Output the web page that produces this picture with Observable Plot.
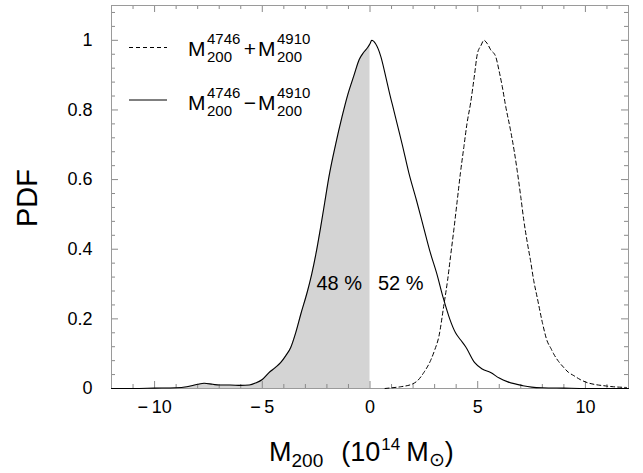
<!DOCTYPE html>
<html><head><meta charset="utf-8">
<script src="https://cdn.jsdelivr.net/npm/d3@7"></script>
<script src="https://cdn.jsdelivr.net/npm/@observablehq/plot@0.6"></script>
<style>body{margin:0;background:#fff} svg{display:block}</style>
</head><body><div id="chart"></div>
<script>
// M200(4746) - M200(4910): solid curve
const diffX = [-12, -11, -10, -9, -8.5, -8.0, -7.7, -7.3, -7.0, -6.5, -6.0, -5.6, -5.3, -5.0, -4.7, -4.4, -4.14, -3.9, -3.68, -3.45, -3.21, -2.9, -2.7, -2.5, -2.3, -2.1, -1.9, -1.6, -1.3, -1.05, -0.74, -0.5, -0.3, -0.1, 0, 0.08, 0.26, 0.5, 0.73, 0.9, 1.1, 1.3, 1.5, 1.8, 2.16, 2.5, 2.8, 3.1, 3.4, 3.7, 3.97, 4.2, 4.44, 4.85, 5.21, 5.6, 6.0, 6.4, 7.1, 7.5, 8, 9, 10, 12];
const diffP = [0, 0, 0.001, 0.002, 0.005, 0.012, 0.015, 0.012, 0.01, 0.01, 0.009, 0.01, 0.016, 0.026, 0.045, 0.06, 0.075, 0.095, 0.118, 0.16, 0.214, 0.28, 0.33, 0.39, 0.46, 0.535, 0.61, 0.70, 0.78, 0.84, 0.9, 0.945, 0.965, 0.98, 0.99, 1.0, 0.99, 0.954, 0.896, 0.85, 0.80, 0.75, 0.70, 0.62, 0.54, 0.46, 0.39, 0.33, 0.26, 0.2, 0.16, 0.14, 0.12, 0.075, 0.056, 0.046, 0.03, 0.019, 0.008, 0.004, 0.002, 0.001, 0, 0];
// M200(4746) + M200(4910): dashed curve
const sumX = [0.7, 1.0, 1.42, 1.97, 2.2, 2.5, 2.81, 3.0, 3.2, 3.43, 3.6, 3.74, 3.9, 4.05, 4.2, 4.36, 4.5, 4.67, 4.85, 4.98, 5.15, 5.29, 5.45, 5.6, 5.83, 6.0, 6.14, 6.3, 6.52, 6.7, 6.83, 7.0, 7.14, 7.3, 7.45, 7.6, 7.76, 8.0, 8.22, 8.4, 8.53, 8.75, 9.0, 9.2, 9.46, 9.75, 10.08, 10.4, 10.85, 11.3, 11.9];
const sumP = [0, 0.002, 0.005, 0.013, 0.022, 0.046, 0.08, 0.11, 0.15, 0.24, 0.31, 0.38, 0.46, 0.54, 0.62, 0.695, 0.76, 0.82, 0.9, 0.96, 0.985, 1.0, 0.99, 0.973, 0.954, 0.91, 0.867, 0.81, 0.743, 0.68, 0.627, 0.55, 0.483, 0.42, 0.368, 0.31, 0.262, 0.19, 0.137, 0.115, 0.099, 0.078, 0.06, 0.047, 0.037, 0.026, 0.017, 0.012, 0.008, 0.005, 0.003];

const xTicks = [-10, -5, 0, 5, 10];
const xMinorTicks = [-11, -9, -8, -7, -6, -4, -3, -2, -1, 1, 2, 3, 4, 6, 7, 8, 9, 11];
const yTicks = [0, 0.2, 0.4, 0.6, 0.8, 1];
const yMinorTicks = [0.04, 0.08, 0.12, 0.16, 0.24, 0.28, 0.32, 0.36, 0.44, 0.48, 0.52, 0.56, 0.64, 0.68, 0.72, 0.76, 0.84, 0.88, 0.92, 0.96, 1.04, 1.08];
const splitAt = 0;
const percentLabels = ["48 %", "52 %"];
const percentY = 0.3;

const diff = diffX.map((x, i) => ({x, y: diffP[i]}));
const sum = sumX.map((x, i) => ({x, y: sumP[i]}));

const W = 643, H = 473, ML = 111, MR = 15, MT = 5, MB = 85;
const X0 = -12, X1 = 12, Y0 = 0, Y1 = 1.1;
const kx = (W - ML - MR) / (X1 - X0), ky = (H - MT - MB) / (Y1 - Y0);
const majLen = 7, minLen = 4;
const tickColor = "#8a8a8a";
const fmtX = d => d < 0 ? "\u2212\u2009" + (-d) : String(d);

function tickMarks(xs, ys, len) {
  const dy = len / ky, dx = len / kx;
  return [
    Plot.ruleX(xs, {x: d => d, y1: Y0, y2: Y0 + dy, stroke: tickColor}),
    Plot.ruleX(xs, {x: d => d, y1: Y1, y2: Y1 - dy, stroke: tickColor}),
    Plot.ruleY(ys, {y: d => d, x1: X0, x2: X0 + dx, stroke: tickColor}),
    Plot.ruleY(ys, {y: d => d, x1: X1, x2: X1 - dx, stroke: tickColor})
  ];
}

const curve = "monotone-x";
const chart = Plot.plot({
  width: W, height: H,
  marginLeft: ML, marginRight: MR, marginTop: MT, marginBottom: MB,
  style: {fontFamily: "'Liberation Sans', Arial, Helvetica, sans-serif", fontSize: "18px", background: "#fff", color: "#000"},
  x: {domain: [X0, X1]},
  y: {domain: [Y0, Y1]},
  marks: [
    Plot.areaY(diff.filter(d => d.x <= splitAt), {x: "x", y: "y", fill: "#d4d4d4", curve}),
    ...tickMarks(xTicks, yTicks, majLen),
    ...tickMarks(xMinorTicks, yMinorTicks, minLen),
    Plot.frame({stroke: "#9a9a9a", strokeWidth: 1}),
    Plot.line(sum, {x: "x", y: "y", stroke: "#000", strokeWidth: 1, strokeDasharray: "4,3", curve}),
    Plot.line(diff, {x: "x", y: "y", stroke: "#000", strokeWidth: 1.1, curve}),
    Plot.axisX(xTicks, {tickSize: 0, tickPadding: 12, tickFormat: fmtX, label: null, fontSize: 18}),
    Plot.axisY(yTicks, {tickSize: 0, tickPadding: 19, tickFormat: d => String(d), label: null, fontSize: 18}),
    Plot.text([percentLabels[0]], {x: splitAt, y: percentY, text: d => d, textAnchor: "end", dx: -8, fontSize: 20}),
    Plot.text([percentLabels[1]], {x: splitAt, y: percentY, text: d => d, textAnchor: "start", dx: 8, fontSize: 20})
  ]
});

document.getElementById("chart").appendChild(chart);

const svg = d3.select(chart);
const font = "'Liberation Sans', Arial, Helvetica, sans-serif";

// y axis label
svg.append("text").attr("transform", "translate(37,198) rotate(-90)")
  .attr("text-anchor", "middle").attr("font-family", font).attr("font-size", 29).attr("fill", "#000").text("PDF");

// x axis label: M_200  (10^14 M_⊙)
const xl = svg.append("text").attr("x", 269).attr("y", 461).attr("text-anchor", "start")
  .attr("font-family", font).attr("font-size", 27).attr("fill", "#000");
xl.append("tspan").text("M");
xl.append("tspan").attr("font-size", 19).attr("dy", 6).text("200");
xl.append("tspan").attr("dy", -6).attr("dx", 18).text("(10");
xl.append("tspan").attr("font-size", 17).attr("dy", -11).attr("dx", 1).text("14");
xl.append("tspan").attr("dy", 11).attr("dx", 6).text("M");
xl.append("tspan").attr("font-size", 19).attr("dy", 5).text("\u2299");
xl.append("tspan").attr("dy", -5).text(")");

// legend
const legendRows = [
  {dash: "4,3", op: "+", y: 47.5, base: 56},
  {dash: null, op: "\u2212", y: 100, base: 110}
];
legendRows.forEach(r => {
  const g = svg.append("g").attr("font-family", font).attr("fill", "#000").attr("text-anchor", "start");
  const ln = g.append("line").attr("x1", 129).attr("x2", 167).attr("y1", r.y).attr("y2", r.y)
    .attr("stroke", "#000").attr("stroke-width", 1);
  if (r.dash) ln.attr("stroke-dasharray", r.dash);
  const term = (x, sup) => {
    g.append("text").attr("x", x).attr("y", r.base).attr("font-size", 21).text("M");
    g.append("text").attr("x", x + 19).attr("y", r.base - 12).attr("font-size", 15).text(sup);
    g.append("text").attr("x", x + 19).attr("y", r.base + 6).attr("font-size", 15).text("200");
  };
  term(188, "4746");
  g.append("text").attr("x", 250).attr("y", r.base).attr("text-anchor", "middle").attr("font-size", 21).text(r.op);
  term(258, "4910");
});
</script>
</body></html>
